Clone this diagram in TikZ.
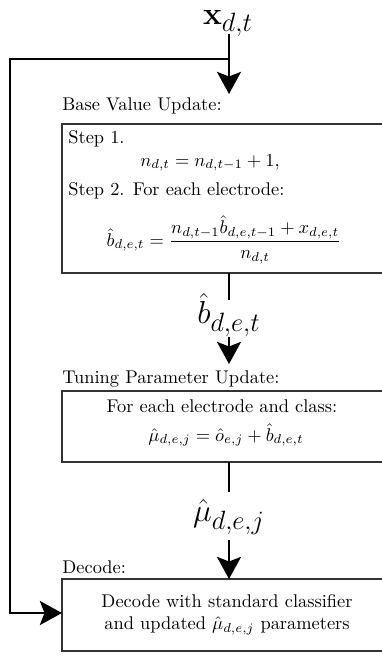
\documentclass[tikz,border=0pt]{standalone}
\usepackage{amsmath,amssymb}
\usetikzlibrary{arrows.meta}
\begin{document}
\begin{tikzpicture}[x=0.5435pt,y=-0.5435pt,
  flow/.style={line width=1.6pt},
  arr/.style={line width=1.6pt,-{Stealth[length=12pt,width=13pt,inset=2.5pt]}},
  boxline/.style={draw=black!80,line width=0.7pt},
  lbl/.style={anchor=base west,inner sep=0pt},
  big/.style={font=\fontsize{19}{23}\selectfont,inner sep=0pt}]
\useasboundingbox (0,0) rectangle (382,656);
% boxes
\draw[boxline] (395,124) -- (62,124) -- (62,273) -- (395,273);
\draw[boxline] (395,391) -- (62,391) -- (62,462) -- (395,462);
\draw[boxline] (395,579) -- (62,579) -- (62,651) -- (395,651);
% labels
\node[lbl] (l1) at (62,110) {Base Value Update:};
\node[lbl] (l2) at (62,383) {Tuning Parameter Update:};
\node[lbl] (l3) at (62,573) {Decode:};
% box 1 contents
\node[lbl] (s1) at (68,143) {Step 1.};
\node[anchor=base west,inner sep=0pt] (e1) at (140,166) {$n_{d,t}=n_{d,t-1}+1,$};
\node[lbl] (s2) at (68,195) {Step 2. For each electrode:};
\node (e2) at (224,240) {$\hat{b}_{d,e,t}=\dfrac{n_{d,t-1}\hat{b}_{d,e,t-1}+x_{d,e,t}}{n_{d,t}}$};
% box 2 contents
\node (t1) at (222,406) {For each electrode and class:};
\node (t2) at (226,435) {$\hat{\mu}_{d,e,j}=\hat{o}_{e,j}+\hat{b}_{d,e,t}$};
% box 3 contents
\node[align=center] (d1) at (227,615) {Decode with standard classifier\\and updated $\hat{\mu}_{d,e,j}$ parameters};
% signals
\node[big,anchor=base] (xin) at (228,24) {$\mathbf{x}_{d,t}$};
\node[big] (bh) at (229,315) {$\hat{b}_{d,e,t}$};
\node[big] (mh) at (229,517) {$\hat{\mu}_{d,e,j}$};
\coordinate (xs) at (229,34);
\coordinate (top1) at (229,94);
\coordinate (split) at (229,59);
\coordinate (bot1) at (229,273);
\coordinate (bt) at (229,300);
\coordinate (bb) at (229,337);
\coordinate (top2) at (229,364);
\coordinate (bot2) at (229,462);
\coordinate (mt) at (229,492);
\coordinate (mb) at (229,540);
\coordinate (top3) at (229,579);
\coordinate (c1) at (10,59);
\coordinate (c2) at (10,613);
\coordinate (in3) at (62,613);
% connectors
\draw[arr] (xs) -- (top1);
\draw[flow] (split) -- (c1) -- (c2) -- ++(20,0);
\draw[arr] (c2) -- (in3);
\draw[flow] (bot1) -- (bt);
\draw[arr] (bb) -- (top2);
\draw[flow] (bot2) -- (mt);
\draw[arr] (mb) -- (top3);
\end{tikzpicture}
\end{document}
